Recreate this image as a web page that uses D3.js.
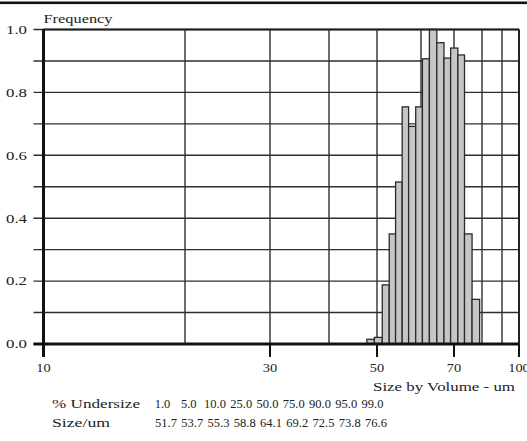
<!DOCTYPE html>
<html>
<head>
<meta charset="utf-8">
<script src="https://cdn.jsdelivr.net/npm/d3@7"></script>
<style>
  html, body { margin: 0; padding: 0; background: #fff; }
  svg { display: block; }
  text { font-family: "Liberation Serif", "Times New Roman", serif; fill: #222; }
</style>
</head>
<body>
<svg id="chart" width="527" height="441"></svg>
<script>
// Particle size distribution (volume frequency, normalised to the modal bin)
const binEdges = [47.7, 49.4, 51.1, 52.6, 54.0, 55.5, 57.0, 58.7, 60.4, 62.4, 64.6, 66.8, 68.9, 71.3, 73.6, 76.3, 79.1];
const frequency = [0.015, 0.021, 0.188, 0.350, 0.515, 0.754, 0.692, 0.754, 0.907, 1.0, 0.958, 0.909, 0.941, 0.919, 0.350, 0.142];

// Axis ticks and grid
const sizeGrid = [10, 20, 30, 40, 50, 60, 70, 80, 90, 100];
const sizeTickLabels = [10, 30, 50, 70, 100];
const freqGrid = [0, 0.1, 0.2, 0.3, 0.4, 0.5, 0.6, 0.7, 0.8, 0.9, 1.0];
const freqTickLabels = [0, 0.2, 0.4, 0.6, 0.8, 1.0];

// Percentile table
const undersize = ["1.0", "5.0", "10.0", "25.0", "50.0", "75.0", "90.0", "95.0", "99.0"];
const sizeUm = ["51.7", "53.7", "55.3", "58.8", "64.1", "69.2", "72.5", "73.8", "76.6"];

const svg = d3.select("#chart");

// Log size axis, piecewise over the decade grid
const x = d3.scaleLog()
  .domain(sizeGrid)
  .range([43.5, 185, 270, 329, 377, 421, 454, 482, 502, 519]);
const y = d3.scaleLinear().domain([0, 1]).range([344, 29.5]);

const xL = x(10), xR = x(100), yT = y(1), yB = y(0);

// Page rule
svg.append("rect").attr("x", 0).attr("y", 1.5).attr("width", 527).attr("height", 2.6).attr("fill", "#111");

// Horizontal grid (with ticks extending left of the axis)
svg.append("g").selectAll("line").data(freqGrid).join("line")
  .attr("x1", xL - 10).attr("x2", xR)
  .attr("y1", d => y(d)).attr("y2", d => y(d))
  .attr("stroke", "#2e2e2e").attr("stroke-width", 1.4);

// Vertical grid
svg.append("g").selectAll("line").data(sizeGrid).join("line")
  .attr("x1", d => x(d)).attr("x2", d => x(d))
  .attr("y1", yT).attr("y2", yB)
  .attr("stroke", "#2e2e2e").attr("stroke-width", 1.4);

// Tick marks below the size axis
svg.append("g").selectAll("line").data(sizeTickLabels).join("line")
  .attr("x1", d => x(d)).attr("x2", d => x(d))
  .attr("y1", yB).attr("y2", yB + 13)
  .attr("stroke", "#111").attr("stroke-width", 2);

// Histogram bars
const bins = frequency.map((v, i) => ({ x0: binEdges[i], x1: binEdges[i + 1], v }));
svg.append("g").selectAll("rect").data(bins).join("rect")
  .attr("x", d => x(d.x0))
  .attr("width", d => x(d.x1) - x(d.x0))
  .attr("y", d => y(d.v))
  .attr("height", d => y(0) - y(d.v))
  .attr("fill", "#c6c6c6")
  .attr("stroke", "#2a2a2a")
  .attr("stroke-width", 1.3);

// Frame
svg.append("line").attr("x1", xL).attr("x2", xR).attr("y1", yT).attr("y2", yT)
  .attr("stroke", "#222").attr("stroke-width", 2);
svg.append("line").attr("x1", xR).attr("x2", xR).attr("y1", yT).attr("y2", yB)
  .attr("stroke", "#222").attr("stroke-width", 2);
svg.append("line").attr("x1", xL).attr("x2", xL).attr("y1", yT).attr("y2", yB + 13)
  .attr("stroke", "#111").attr("stroke-width", 3);
svg.append("line").attr("x1", xL - 10).attr("x2", xR).attr("y1", yB).attr("y2", yB)
  .attr("stroke", "#111").attr("stroke-width", 3);

// Wide serif lettering
function label(sel, width) {
  return sel.attr("textLength", width).attr("lengthAdjust", "spacingAndGlyphs");
}

// Frequency labels
svg.append("g").selectAll("text").data(freqTickLabels).join("text")
  .attr("x", 27).attr("y", d => y(d)).attr("dy", "0.35em")
  .attr("text-anchor", "end").attr("font-size", 12.5)
  .attr("textLength", 21).attr("lengthAdjust", "spacingAndGlyphs")
  .text(d => d.toFixed(1));

// Size labels
svg.append("g").selectAll("text").data(sizeTickLabels).join("text")
  .attr("x", d => x(d)).attr("y", 372)
  .attr("text-anchor", "middle").attr("font-size", 12.5)
  .attr("textLength", d => String(d).length * 7.2).attr("lengthAdjust", "spacingAndGlyphs")
  .text(d => d);

label(svg.append("text").attr("x", xL).attr("y", 22.5).attr("font-size", 13.5), 69).text("Frequency");
label(svg.append("text").attr("x", 373).attr("y", 391).attr("font-size", 13.5), 142)
  .text("Size by Volume - um");

// Percentile table
const col = d3.scaleLinear().domain([0, 8]).range([162.5, 372.5]);
label(svg.append("text").attr("x", 52).attr("y", 408).attr("font-size", 13), 88).text("% Undersize");
label(svg.append("text").attr("x", 52).attr("y", 427).attr("font-size", 13), 58).text("Size/um");
svg.append("g").selectAll("text").data(undersize).join("text")
  .attr("x", (d, i) => col(i)).attr("y", 408)
  .attr("text-anchor", "middle").attr("font-size", 12.5).text(d => d);
svg.append("g").selectAll("text").data(sizeUm).join("text")
  .attr("x", (d, i) => col(i) + 3.5).attr("y", 427)
  .attr("text-anchor", "middle").attr("font-size", 12.5).text(d => d);
</script>
</body>
</html>
